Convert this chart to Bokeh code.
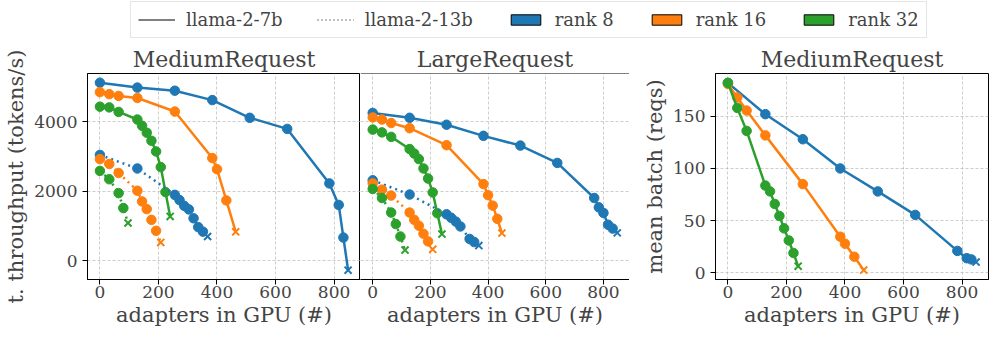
from bokeh.plotting import figure
from bokeh.layouts import column, row
from bokeh.models import Range1d, FixedTicker, Legend, LegendItem, Span
from bokeh.embed import file_html
from bokeh.resources import INLINE

# ---------------- data (last point of each series = failure point, drawn as "x") ----------------
# Panel 1: MediumRequest throughput (tokens/s)
med_7b_r8_x = [0, 128, 256, 384, 512, 640, 784, 816, 832, 848]
med_7b_r8_y = [5130, 4990, 4900, 4630, 4120, 3800, 2230, 1610, 670, -270]
med_7b_r16_x = [0, 32, 64, 128, 256, 384, 400, 432, 464]
med_7b_r16_y = [4860, 4800, 4750, 4690, 4300, 2960, 2640, 1740, 835]
med_7b_r32_x = [0, 32, 64, 128, 144, 160, 176, 192, 208, 224, 240]
med_7b_r32_y = [4440, 4420, 4290, 4070, 3890, 3690, 3460, 3150, 2700, 1980, 1280]
med_13b_r8_x = [0, 128, 256, 272, 288, 304, 320, 336, 352, 368]
med_13b_r8_y = [3050, 2660, 1900, 1750, 1585, 1480, 1225, 970, 840, 700]
med_13b_r16_x = [0, 32, 64, 128, 144, 160, 176, 192, 208]
med_13b_r16_y = [2930, 2790, 2530, 2020, 1710, 1490, 1180, 865, 530]
med_13b_r32_x = [0, 32, 64, 80, 96]
med_13b_r32_y = [2590, 2350, 1950, 1520, 1090]

# Panel 2: LargeRequest throughput (tokens/s)
lrg_7b_r8_x = [0, 128, 256, 384, 512, 640, 768, 784, 800, 816, 832, 848]
lrg_7b_r8_y = [4260, 4120, 3920, 3600, 3320, 2820, 1810, 1540, 1380, 1040, 930, 805]
lrg_7b_r16_x = [0, 32, 64, 128, 256, 384, 400, 416, 432, 448]
lrg_7b_r16_y = [4130, 4070, 3970, 3820, 3330, 2210, 1890, 1590, 1210, 800]
lrg_7b_r32_x = [0, 32, 64, 128, 144, 160, 176, 192, 208, 224, 240]
lrg_7b_r32_y = [3780, 3700, 3570, 3220, 3090, 2930, 2660, 2370, 1970, 1370, 770]
lrg_13b_r8_x = [0, 128, 256, 272, 288, 304, 336, 352, 368]
lrg_13b_r8_y = [2320, 1910, 1340, 1240, 1130, 990, 630, 540, 440]
lrg_13b_r16_x = [0, 32, 64, 128, 144, 160, 176, 192, 208]
lrg_13b_r16_y = [2230, 2050, 1880, 1390, 1180, 1010, 780, 560, 330]
lrg_13b_r32_x = [0, 32, 64, 80, 96, 112]
lrg_13b_r32_y = [2070, 1810, 1390, 1060, 700, 310]

# Panel 3: MediumRequest mean batch (reqs), llama-2-7b
mb_r8_x = [0, 128, 256, 384, 512, 640, 784, 816, 832, 848]
mb_r8_y = [182, 152, 128, 100, 78, 55.5, 21, 14, 12.8, 10.3]
mb_r16_x = [0, 32, 64, 128, 256, 384, 400, 432, 464]
mb_r16_y = [181, 168, 155.5, 131.7, 85, 34.6, 27.9, 15.4, 2.6]
mb_r32_x = [0, 32, 64, 128, 144, 160, 176, 192, 208, 224, 240]
mb_r32_y = [182, 158, 136, 83.6, 78, 66, 54.5, 42.6, 31, 19, 6.4]

x_ticks = [0, 200, 400, 600, 800]
tp_ticks = [0, 2000, 4000]
mb_ticks = [0, 50, 100, 150]

titles = ["MediumRequest", "LargeRequest", "MediumRequest"]
xlabel = "adapters in GPU (#)"
ylabel_tp = "t. throughput (tokens/s)"
ylabel_mb = "mean batch (reqs)"
legend_labels = ["llama-2-7b", "llama-2-13b", "rank 8", "rank 16", "rank 32"]
rank_colors = ["#1f77b4", "#ff7f0e", "#2ca02c"]

FONT = "DejaVu Serif"
GRID_COLOR = "#b0b0b0"
ROW_H = 297


def style_axis(ax, label_standoff, axis_label_standoff):
    ax.major_label_text_font = FONT
    ax.major_label_text_font_size = "17px"
    ax.axis_label_text_font = FONT
    ax.axis_label_text_font_size = "21px"
    ax.axis_label_text_font_style = "normal"
    ax.major_tick_out = 5
    ax.major_tick_in = 0
    ax.minor_tick_out = 0
    ax.minor_tick_in = 0
    ax.major_label_standoff = label_standoff
    ax.axis_label_standoff = axis_label_standoff
    ax.axis_line_color = "black"
    ax.major_tick_line_color = "black"


def make_panel(title, x_range, y_range, yticks, ylabel, width, bl, br, show_y=True):
    p = figure(width=width, height=ROW_H, output_backend="svg", toolbar_location=None,
               x_range=Range1d(*x_range), y_range=Range1d(*y_range),
               min_border_left=bl, min_border_right=br, min_border_top=30, min_border_bottom=60,
               y_axis_location="left" if show_y else None, title=title)
    p.title.text_font = FONT
    p.title.text_font_size = "22px"
    p.title.text_font_style = "normal"
    p.title.align = "center"
    p.title.standoff = 4
    p.outline_line_color = "black"
    p.outline_line_width = 1
    p.outline_line_alpha = 1
    p.background_fill_color = "white"
    p.border_fill_color = "white"
    p.xgrid.ticker = FixedTicker(ticks=x_ticks)
    p.ygrid.ticker = FixedTicker(ticks=yticks)
    for g in (p.xgrid, p.ygrid):
        g.grid_line_color = GRID_COLOR
        g.grid_line_dash = "3 2"
        g.grid_line_width = 0.8
        g.grid_line_alpha = 0.8
    for ax in p.below:
        style_axis(ax, 1, 2)
        ax.ticker = FixedTicker(ticks=x_ticks)
        ax.axis_label = xlabel
    if show_y:
        for ax in p.left:
            style_axis(ax, 5, 3)
            ax.ticker = FixedTicker(ticks=yticks)
            ax.axis_label = ylabel
    return p


def draw_series(p, xs, ys, color, dash="solid"):
    p.line(xs, ys, line_color=color, line_width=2.5, line_dash=dash)
    p.scatter(xs[:-1], ys[:-1], marker="circle", size=9.5, fill_color=color, line_color=color)
    p.scatter(xs[-1:], ys[-1:], marker="x", size=10, line_color=color, line_width=2)


XR = (-42.4, 890.4)
TPR = (-538, 5396)
MBR = (-6.4, 191)

p1 = make_panel(titles[0], XR, TPR, tp_ticks, ylabel_tp, 360, 87, 0)
p2 = make_panel(titles[1], XR, TPR, tp_ticks, None, 269, 0, 0, show_y=False)
p3 = make_panel(titles[2], XR, MBR, mb_ticks, ylabel_mb, 368, 86, 9)

# middle panel shares its left spine with the first panel: draw only top/right/bottom
p2.outline_line_color = None
for loc, dim in [(XR[1], "height"), (TPR[1], "width"), (TPR[0], "width")]:
    p2.add_layout(Span(location=loc, dimension=dim, line_color="black", line_width=1))

DOT = "2 4"
for (xs, ys), c in zip([(med_7b_r8_x, med_7b_r8_y), (med_7b_r16_x, med_7b_r16_y),
                        (med_7b_r32_x, med_7b_r32_y)], rank_colors):
    draw_series(p1, xs, ys, c)
for (xs, ys), c in zip([(med_13b_r8_x, med_13b_r8_y), (med_13b_r16_x, med_13b_r16_y),
                        (med_13b_r32_x, med_13b_r32_y)], rank_colors):
    draw_series(p1, xs, ys, c, DOT)
for (xs, ys), c in zip([(lrg_7b_r8_x, lrg_7b_r8_y), (lrg_7b_r16_x, lrg_7b_r16_y),
                        (lrg_7b_r32_x, lrg_7b_r32_y)], rank_colors):
    draw_series(p2, xs, ys, c)
for (xs, ys), c in zip([(lrg_13b_r8_x, lrg_13b_r8_y), (lrg_13b_r16_x, lrg_13b_r16_y),
                        (lrg_13b_r32_x, lrg_13b_r32_y)], rank_colors):
    draw_series(p2, xs, ys, c, DOT)
for (xs, ys), c in zip([(mb_r8_x, mb_r8_y), (mb_r16_x, mb_r16_y), (mb_r32_x, mb_r32_y)], rank_colors):
    draw_series(p3, xs, ys, c)

# ---------------- legend strip ----------------
lf = figure(width=997, height=42, output_backend="svg", toolbar_location=None,
            x_range=Range1d(0, 1), y_range=Range1d(0, 1),
            x_axis_location=None, y_axis_location=None,
            min_border=0)
lf.outline_line_color = None
lf.xgrid.visible = False
lf.ygrid.visible = False
# off-screen placeholder glyphs so that the legend has something to draw
r_solid = lf.line(x=[-5, -4], y=[-5, -4], line_color="gray", line_width=2)
r_dot = lf.line(x=[-5, -4], y=[-5, -4], line_color="gray", line_width=2, line_dash="1 3")
rank_r = []
for c in rank_colors:
    rank_r.append(lf.quad(left=[-5], right=[-4], top=[-4], bottom=[-5], fill_color=c,
                          line_color="black", line_width=1))
items = [LegendItem(label=legend_labels[0], renderers=[r_solid]),
         LegendItem(label=legend_labels[1], renderers=[r_dot])]
for lab, r in zip(legend_labels[2:], rank_r):
    items.append(LegendItem(label=lab, renderers=[r]))
leg = Legend(items=items, orientation="horizontal", location=(130, 4),
             label_text_font=FONT, label_text_font_size="18px",
             glyph_width=37, glyph_height=13, label_height=19, label_standoff=11,
             spacing=34, padding=7, margin=0,
             border_line_color="#cccccc", border_line_width=1,
             background_fill_alpha=1)
lf.add_layout(leg, "center")

layout = column(lf, row(p1, p2, p3))
open("out.html", "w").write(file_html(layout, INLINE))
